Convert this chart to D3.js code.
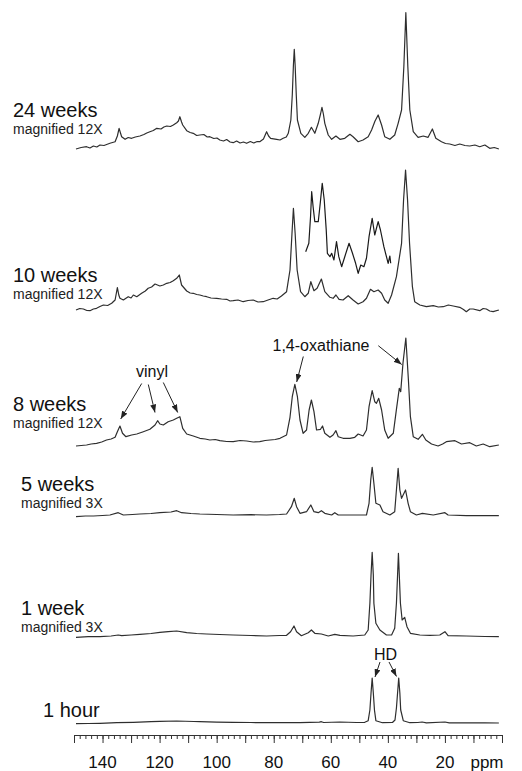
<!DOCTYPE html>
<html>
<head>
<meta charset="utf-8">
<script src="https://cdn.jsdelivr.net/npm/d3@7"></script>
<style>
  body { margin: 0; background: #fff; }
  svg { display: block; font-family: "Liberation Sans", Arial, sans-serif; }
</style>
</head>
<body>
<svg id="nmr"></svg>
<script>
// spectra as [ppm, intensity (a.u.)]
var spec24w = [[149.3,1],[147.5,2.5],[145.6,3.3],[144.4,2],[143.2,4],[142,3],[140.9,5],[139.5,4.5],[137.4,6.7],[135.6,8.3],[134.8,14],[134.2,21.7],[133.6,16],[133.3,13.3],[132.1,10.7],[131,12.5],[129.8,11.7],[128.5,13],[126.9,14],[125.5,15.5],[124.5,17],[123.4,18.3],[122.2,19.5],[121,21.7],[119.5,21],[118.5,23],[117.5,24],[116.2,23.5],[115.2,25],[114,27.3],[113.4,29],[112.9,33.3],[112.3,28],[111.9,25],[110.5,19.3],[109.3,17.5],[108.2,16.7],[107,14.5],[105.9,15],[104.5,15.5],[103.3,13],[102.4,13.3],[101,11.5],[99.9,12],[98.9,10],[97.6,9],[96.5,10.5],[95.3,8],[94.2,7.3],[93,9],[91.8,7],[90.6,8],[89.5,6.7],[88.2,8.5],[87,7],[85.8,8.5],[84.9,8.3],[83.6,11],[82.5,18.3],[81.8,14],[81.1,11.7],[79,10.7],[77.8,10],[76.7,11.7],[75.6,13],[74.9,16.7],[74,30],[73.5,55],[73.1,85],[72.8,100.7],[72.5,85],[72.1,55],[71.7,30],[70.5,16.7],[69.1,12.7],[67.9,16.7],[66.8,22.7],[65.6,16.7],[64.4,26.7],[63.6,36],[63.1,42.7],[62.6,36],[62.1,26.7],[60.9,15],[59.7,10.7],[58.2,14],[56.8,10.7],[55.1,11.7],[53.3,15.7],[52.2,13.3],[50.4,8.3],[48.7,10],[46.9,13.3],[45.7,20],[44.5,29],[43.4,35],[42.2,25],[41.1,13.3],[39.3,10.7],[37.6,15],[36.4,26.7],[35.2,40],[34.4,83.3],[33.7,137.3],[33,83.3],[32.3,40],[31.1,18.3],[29.4,12.7],[27.6,14],[25.9,12.7],[24.4,21],[23.2,11.7],[21.2,8.3],[19.8,6.5],[18.3,6],[16.5,4.5],[14.8,6],[13,4.5],[11.3,4],[9.5,5],[7.8,3.3],[6,5],[4.3,1.7],[2.7,2.5],[1.1,1]]

var spec10w = [[149.3,2],[148,3.5],[146.7,3],[145.5,1.5],[144.4,1.3],[143.2,3],[142.1,3.7],[140.9,5.5],[139.7,7],[138.2,6.5],[136.8,8.7],[135.6,12],[134.8,24.3],[134.3,17],[133.9,13.7],[132.7,12],[131,15.3],[130,14],[129.2,17],[128,15.3],[126.3,18.7],[125,21],[124,23.7],[122.8,25],[121.6,28],[119.9,26],[118.7,27],[117.5,28.7],[116.3,29.5],[115.2,31.3],[114,33.7],[113.1,37],[112.3,27],[110.5,21],[109.3,19],[108.2,18.7],[107,17.5],[105.9,17],[104.7,16],[103.5,15.3],[102,14],[100,13.7],[98.3,13],[96.5,12.7],[95.3,11],[94.2,11.3],[92.5,12],[90.7,10.3],[89,11.5],[87.2,12],[85.5,10],[83.7,10.3],[82,12],[80.2,13.7],[78.8,13],[77.3,16],[75.5,20.3],[74.3,42],[73.6,78.7],[73.1,103.7],[72.5,78.7],[71.8,42],[70.6,20.3],[69.1,15.3],[67.9,18.7],[67,30.3],[65.9,21.3],[64.8,23.7],[63.3,33],[62.1,20.3],[60.3,14.7],[59.2,13.7],[58.2,17],[57.1,12.7],[55.7,12],[53.9,16.3],[52.2,12],[50.4,8],[48.7,10.3],[47.5,13.7],[46.1,22.7],[44.9,20.3],[43.4,22],[42.2,18.7],[41.1,12],[39.9,8.7],[38.7,17],[37,35.3],[35.2,68.7],[34.5,112],[33.8,142],[33.1,112],[32.4,68.7],[31.4,25.3],[30.6,10.3],[28.8,7],[26.5,5.3],[24.1,6.3],[22.3,5],[20.6,5.3],[18.8,7],[17.1,6],[14.8,4.7],[13.5,2.5],[12.5,0.3],[11.3,3],[10.1,3],[7.8,1.3],[6.6,3.5],[5.5,3],[4.3,1],[3.1,0.3],[1.1,2]]

// expanded region 69-39 ppm drawn over the 10 week trace
var spec10wInset = [[68.8,18.3],[67.7,26.7],[67.1,53.3],[66.7,78.3],[66.2,63.3],[65.6,48.3],[64.4,48.3],[63.7,66.7],[63,86.7],[62.3,70],[61.6,40],[61.2,16.7],[60.3,13.3],[59.7,16.7],[58.9,10],[58,28.3],[57.2,13.3],[56.2,3.3],[55.1,13.3],[53.6,26.7],[52.4,16.7],[51.3,6.7],[50.4,-3.3],[49.5,5],[48.4,3.3],[47.5,11.7],[46.6,33.3],[45.5,51.7],[44.6,35],[43.4,48.3],[42.6,40],[41.4,23.3],[40.5,13.3],[39.9,6.7],[39.3,14],[39,6.7]]

var spec8w = [[149.3,2],[147.5,2.5],[145.6,3],[144,4],[142.1,4.7],[140.3,6],[138.6,8],[137,9],[135.6,10.7],[134.8,16.3],[133.9,22],[133,14.7],[131.8,11.3],[129.8,13],[128,14],[125.7,16.3],[123.4,18.7],[121.6,23],[120.7,27.3],[119.9,24],[118.7,23],[117,26.3],[115.2,28],[114,29.7],[112.9,31.3],[111.9,19.7],[110.5,14],[108.2,12],[105.9,9.7],[104,9],[102.4,8],[100.5,8.5],[98.9,7.3],[96.5,6.5],[94.2,6.3],[91.8,7.5],[89.5,7],[87.2,6],[84.9,6.3],[83,7.5],[81.3,8],[79.5,8.5],[77.8,9.7],[75.5,13],[74.3,30.7],[73.5,51.3],[72.6,63.7],[71.7,51.3],[70.8,28],[69.7,14.7],[68.5,18],[67.6,38],[66.8,48],[65.9,36.3],[65,18],[63.6,18.7],[62.9,22],[62.1,14.7],[60.3,10.7],[59.2,13],[58.2,17.3],[57.4,11.3],[55.7,9.7],[53.3,9.7],[51.6,10.7],[50.4,14],[48.7,12],[47.5,18],[46.6,41.3],[45.5,57.3],[44.6,46.3],[44,44.7],[43.2,49.7],[42.2,38],[41.1,18],[39.9,9.7],[38.1,14.7],[37,38.7],[36,59.7],[35.5,56.3],[34.7,85],[33.7,110],[32.8,68],[32.1,31.3],[31.1,11.3],[29.4,8.7],[27.9,13.7],[26.7,8],[24.7,4],[22.4,2],[20.8,4],[19.5,6.3],[16.5,7.3],[14.2,4],[11.3,5.3],[9,2],[6.6,4],[4.3,1.3],[1.1,3]]

var spec5w = [[149.3,0.3],[146,1],[143.2,1],[140,1.5],[137.4,2],[134.5,4.3],[132.7,2],[129.5,2.5],[126.9,3],[123,3.5],[119.9,4.3],[116,5],[114,6.3],[112.3,4.3],[109,3.5],[105.9,3],[100,2.5],[94.2,2],[88,2.3],[82.5,2],[78,2.5],[75.5,3],[73.8,10.3],[72.8,18.7],[72,10.3],[70.8,3.7],[68.5,5.3],[67,12],[65.9,5.3],[64.4,4.3],[63.3,6.3],[62.1,3.7],[59.7,2],[58.6,4.3],[57.4,2],[52.2,2],[47.5,2],[46.6,13.7],[46,37],[45.5,49.7],[44.9,33.7],[44.2,13.7],[42.8,12],[41.7,5.3],[39.3,2],[37.6,5.3],[37,27],[36.4,48.7],[35.8,27],[35.2,18.7],[33.8,27],[32.9,13.7],[32.1,5.3],[30,2],[27.9,3.7],[24.1,2],[20,4.3],[18.9,2],[12.5,1.3],[6,1.5],[1.1,1.3]]

var spec1w = [[149.3,-0.3],[145,0.3],[140.9,0.3],[137,1],[134.5,2],[133.3,1.3],[130,2],[126.9,2.7],[123,3.5],[119.9,4.7],[117,5.3],[114,6],[110.5,4.3],[107,3.5],[103.5,3],[99,2.5],[94.2,2],[88,1.5],[82.5,1],[78,1.5],[75.5,1.7],[74.1,5.3],[72.9,11],[72,5.3],[70.3,1.3],[67.9,4.3],[66.8,7],[65.6,3.7],[63.3,3],[60.9,1],[58.6,2.7],[56.8,1.7],[52.2,1],[48.1,2],[46.9,7],[46.3,33.7],[45.9,62],[45.5,84.7],[45.1,62],[44.9,33.7],[44.2,13.7],[42.8,7],[40.5,2],[38.7,2],[37.6,8.7],[37,33.7],[36.6,62],[36.3,83.7],[35.9,55],[35.6,33.7],[35,17],[34.1,19.7],[33.3,10.3],[32.1,3.7],[28.8,2],[25.3,1.7],[21.8,2],[20,5.3],[18.9,1.3],[12.5,1],[6,0.5],[1.1,0.3]]

var spec1h = [[149.3,-0.7],[145,-0.5],[140.9,-0.3],[135,0.3],[129.2,0.7],[123,1.3],[119.9,1.7],[114,2],[108,1.5],[105.9,1.3],[100,0.9],[94.2,0.7],[88,0.5],[82.5,0.3],[75,0.3],[70.8,0.3],[64,0.8],[63.3,1.3],[62.5,0.5],[56.8,1],[51,0.5],[48.1,0.7],[46.9,2.3],[46.3,13],[45.9,30],[45.5,45],[45.1,30],[44.7,13],[44.2,2.3],[41.9,0.3],[38.4,0.5],[37.5,3],[37,15],[36.6,30],[36.2,45],[35.8,30],[35.5,13],[34.6,2.3],[32.3,0.3],[29.5,0.5],[28,1],[26.5,0.2],[20,1],[18.5,0.2],[12.5,0.1],[6,0.2],[1.1,0]]

var traceNames = ["24 weeks", "10 weeks", "8 weeks", "5 weeks", "1 week", "1 hour"]
var traceNotes = ["magnified 12X", "magnified 12X", "magnified 12X", "magnified 3X", "magnified 3X", ""]
var traces = [spec24w, spec10w, spec8w, spec5w, spec1w, spec1h]
var axisLabels = [140, 120, 100, 80, 60, 40, 20]

//layout
var width = 522, height = 771
var baselines = [150, 312, 448, 517, 637, 723]
var labelPos = [
    {x: 13, y: 117, noteY: 134},
    {x: 13, y: 282, noteY: 299},
    {x: 13, y: 411, noteY: 428},
    {x: 21, y: 491, noteY: 508},
    {x: 21, y: 615, noteY: 632},
    {x: 43, y: 717, noteY: 0}
]
var insetLift = 42
var axisY = 735
var lineColor = "#2e2e2e"

var svg = d3.select("#nmr").attr("width", width).attr("height", height)

var x = d3.scaleLinear().domain([150, 0]).range([74, 502])
var y = d3.scaleLinear().domain([0, 100]).range([0, -100])

var line = d3.line().x(d => x(d[0])).y(d => y(d[1]))

//spectra
traces.forEach((spec, i) => {
    var g = svg.append("g").attr("transform", `translate(0,${baselines[i]})`)
    g.append("path")
     .attr("d", line(spec))
     .attr("fill", "none")
     .attr("stroke", lineColor)
     .attr("stroke-width", 1.2)
     .attr("stroke-linejoin", "round")
})

svg.append("g")
   .attr("transform", `translate(0,${baselines[1] - insetLift})`)
   .append("path")
   .attr("d", line(spec10wInset))
   .attr("fill", "none")
   .attr("stroke", "#1a1a1a")
   .attr("stroke-width", 1.2)
   .attr("stroke-linejoin", "round")

//labels
labelPos.forEach((p, i) => {
    svg.append("text")
       .attr("x", p.x).attr("y", p.y)
       .attr("font-size", 20)
       .attr("fill", "#111")
       .text(traceNames[i])
    if (traceNotes[i]) {
        svg.append("text")
           .attr("x", p.x).attr("y", p.noteY)
           .attr("font-size", 14)
           .attr("fill", "#222")
           .text(traceNotes[i])
    }
})

//axis
var minorAxis = d3.axisBottom(x).tickValues(d3.range(0, 151, 2)).tickSize(4).tickSizeOuter(0).tickFormat("")
var majorAxis = d3.axisBottom(x).tickValues(d3.range(0, 151, 10)).tickSize(8).tickSizeOuter(0).tickFormat("")

var axisG = svg.append("g").attr("transform", `translate(0,${axisY})`)
axisG.call(minorAxis)
axisG.append("g").call(majorAxis).select(".domain").remove()
axisG.selectAll("line, path").attr("stroke", "#333").attr("stroke-width", 1)

axisG.selectAll(".lbl")
     .data(axisLabels)
     .enter()
     .append("text")
     .attr("class", "lbl")
     .attr("x", d => x(d))
     .attr("y", 33)
     .attr("text-anchor", "middle")
     .attr("font-size", 17)
     .attr("fill", "#111")
     .text(d => d)

axisG.append("text")
     .attr("x", 487).attr("y", 33)
     .attr("font-size", 17)
     .attr("fill", "#111")
     .text("ppm")

//annotations
svg.append("defs").append("marker")
   .attr("id", "arrow")
   .attr("markerUnits", "userSpaceOnUse")
   .attr("markerWidth", 8).attr("markerHeight", 6)
   .attr("refX", 8).attr("refY", 3)
   .attr("orient", "auto")
   .append("path")
   .attr("d", "M0,0 L8,3 L0,6 Z")
   .attr("fill", "#222")

var notes = [
    {text: "vinyl", x: 152, y: 377, arrows: [[141.7, 383.5, 120.7, 419], [148.3, 384.5, 155, 412.5], [163.3, 382.5, 177.7, 412.5]]},
    {text: "1,4-oxathiane", x: 321, y: 351, arrows: [[303.3, 356.5, 296.7, 382], [378.3, 345.7, 401.7, 364.5]]},
    {text: "HD", x: 385.5, y: 660, arrows: [[380, 662, 375, 677], [389, 662, 396.5, 676.5]]}
]

notes.forEach(n => {
    svg.append("text")
       .attr("x", n.x).attr("y", n.y)
       .attr("text-anchor", "middle")
       .attr("font-size", 16)
       .attr("fill", "#111")
       .text(n.text)
    n.arrows.forEach(a => {
        svg.append("line")
           .attr("x1", a[0]).attr("y1", a[1])
           .attr("x2", a[2]).attr("y2", a[3])
           .attr("stroke", "#222")
           .attr("stroke-width", 1)
           .attr("marker-end", "url(#arrow)")
    })
})
</script>
</body>
</html>
